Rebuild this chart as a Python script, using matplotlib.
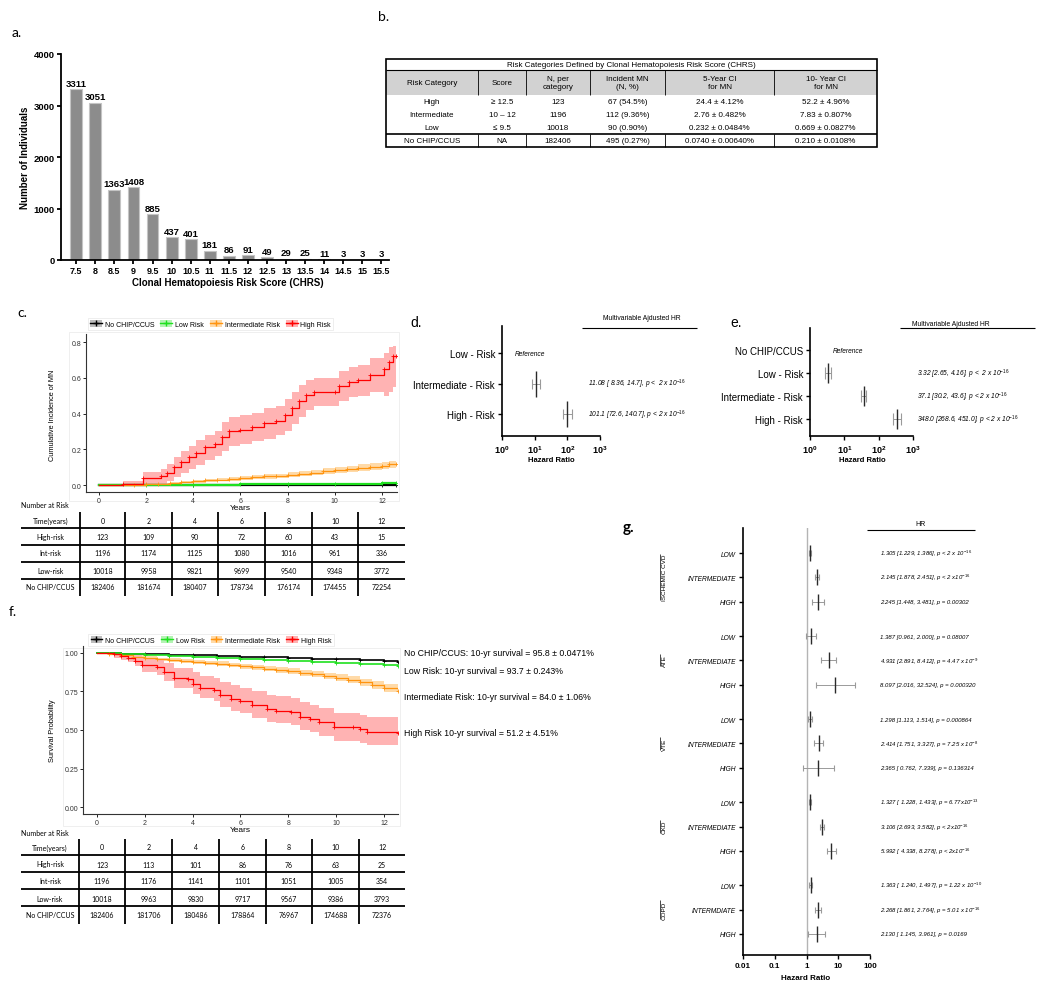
import numpy as np
import matplotlib
matplotlib.use("Agg")
import matplotlib.pyplot as plt
from matplotlib.patches import Rectangle, Patch
from matplotlib.lines import Line2D
from matplotlib.ticker import NullLocator
from matplotlib import transforms

plt.rcParams["font.family"] = ["Liberation Sans", "DejaVu Sans"]
plt.rcParams["mathtext.fontset"] = "custom"
plt.rcParams["mathtext.rm"] = "Liberation Sans"
plt.rcParams["mathtext.it"] = "Liberation Sans:italic"
plt.rcParams["mathtext.bf"] = "Liberation Sans:bold"

# ─────────────────────────────────────────────
# Data
# ─────────────────────────────────────────────

# a. CHRS distribution
chrs_scores = ["7.5", "8", "8.5", "9", "9.5", "10", "10.5", "11", "11.5", "12",
               "12.5", "13", "13.5", "14", "14.5", "15", "15.5"]
chrs_counts = [3311, 3051, 1363, 1408, 885, 437, 401, 181, 86, 91, 49, 29, 25, 11, 3, 3, 3]

# b. risk category table
b_header = ["Risk Category", "Score", "N, per\ncategory", "Incident MN\n(N, %)",
            "5-Year CI\nfor MN", "10- Year CI\nfor MN"]
b_category = ["High", "Intermediate", "Low", "No CHIP/CCUS"]
b_score = ["≥ 12.5", "10 – 12", "≤ 9.5", "NA"]
b_n = ["123", "1196", "10018", "182406"]
b_incident = ["67 (54.5%)", "112 (9.36%)", "90 (0.90%)", "495 (0.27%)"]
b_ci5 = ["24.4 ± 4.12%", "2.76 ± 0.482%", "0.232 ± 0.0484%", "0.0740 ± 0.00640%"]
b_ci10 = ["52.2 ± 4.96%", "7.83 ± 0.807%", "0.669 ± 0.0827%", "0.210 ± 0.0108%"]

# c. cumulative incidence of MN
c_high_t = [0, 1.0, 1.85, 2.65, 2.9, 3.2, 3.5, 3.8, 4.1, 4.5, 4.9, 5.2, 5.5, 6.0, 6.5, 7.0,
            7.5, 7.9, 8.2, 8.5, 8.8, 9.1, 10.0, 10.2, 10.6, 11.0, 11.5, 12.1, 12.3, 12.45, 12.6]
c_high_y = [0, 0.008, 0.040, 0.048, 0.07, 0.10, 0.13, 0.155, 0.18, 0.21, 0.23, 0.27, 0.30, 0.31,
            0.325, 0.345, 0.36, 0.39, 0.43, 0.47, 0.505, 0.52, 0.52, 0.555, 0.575, 0.59, 0.615,
            0.65, 0.69, 0.72, 0.72]
c_high_lo = [0, 0, 0.005, 0.008, 0.025, 0.045, 0.07, 0.09, 0.11, 0.14, 0.16, 0.19, 0.22, 0.23,
             0.245, 0.26, 0.28, 0.30, 0.34, 0.38, 0.42, 0.44, 0.44, 0.47, 0.49, 0.50, 0.52, 0.50,
             0.52, 0.55, 0.55]
c_high_hi = [0, 0.02, 0.075, 0.088, 0.115, 0.155, 0.19, 0.22, 0.25, 0.28, 0.30, 0.35, 0.38, 0.39,
             0.405, 0.43, 0.44, 0.48, 0.52, 0.56, 0.59, 0.60, 0.60, 0.64, 0.66, 0.67, 0.71, 0.74,
             0.77, 0.78, 0.78]
c_int_t = [0, 1.5, 2.0, 2.5, 3.0, 3.5, 4.0, 4.5, 5.0, 5.5, 6.0, 6.5, 7.0, 7.5, 8.0, 8.5, 9.0,
           9.5, 10.0, 10.5, 11.0, 11.5, 12.0, 12.3, 12.6]
c_int_y = [0, 0.001, 0.003, 0.008, 0.013, 0.017, 0.022, 0.026, 0.030, 0.034, 0.039, 0.043, 0.048,
           0.052, 0.058, 0.064, 0.070, 0.077, 0.084, 0.091, 0.097, 0.103, 0.108, 0.115, 0.12]
c_int_lo = [0, 0, 0.001, 0.004, 0.007, 0.011, 0.014, 0.018, 0.021, 0.025, 0.029, 0.032, 0.036,
            0.040, 0.045, 0.050, 0.055, 0.061, 0.067, 0.073, 0.079, 0.084, 0.089, 0.095, 0.100]
c_int_hi = [0, 0.002, 0.006, 0.012, 0.018, 0.024, 0.029, 0.034, 0.039, 0.043, 0.049, 0.054, 0.060,
            0.064, 0.071, 0.078, 0.085, 0.093, 0.101, 0.109, 0.115, 0.122, 0.127, 0.135, 0.140]
c_low_t = [0, 2, 4, 6, 8, 10, 12, 12.6]
c_low_y = [0, 0.001, 0.002, 0.004, 0.005, 0.007, 0.009, 0.010]
c_none_t = [0, 4, 8, 12, 12.6]
c_none_y = [0, 0.0005, 0.001, 0.0015, 0.002]

# c. number at risk
risk_times = ["0", "2", "4", "6", "8", "10", "12"]
risk_rows = ["High-risk", "Int-risk", "Low-risk", "No CHIP/CCUS"]
c_risk_high = [123, 109, 90, 72, 60, 43, 15]
c_risk_int = [1196, 1174, 1125, 1080, 1016, 961, 336]
c_risk_low = [10018, 9958, 9821, 9699, 9540, 9348, 3772]
c_risk_none = [182406, 181674, 180407, 178734, 176174, 174455, 72254]

# d. / e. multivariable adjusted HR
d_rows = ["Low - Risk", "Intermediate - Risk", "High - Risk"]
d_hr = [11.08, 101.1]
d_lo = [8.36, 72.6]
d_hi = [14.7, 140.7]
d_text = [r"11.08 [ 8.36, 14.7], p <  2 x 10$^{-16}$", r"101.1 [72.6, 140.7], p < 2 x 10$^{-16}$"]

e_rows = ["No CHIP/CCUS", "Low - Risk", "Intermediate - Risk", "High - Risk"]
e_hr = [3.32, 37.1, 348.0]
e_lo = [2.65, 30.2, 268.6]
e_hi = [4.16, 43.6, 451.0]
e_text = [r"3.32 [2.65, 4.16], p <  2 x 10$^{-16}$", r"37.1 [30.2, 43.6], p < 2 x 10$^{-16}$",
          r"348.0 [268.6, 451.0], p < 2 x 10$^{-16}$"]

# f. survival
f_none_t = [0, 1, 2, 3, 4, 5, 6, 7, 8, 9, 10, 11, 12, 12.6]
f_none_y = [1.0, 0.996, 0.992, 0.988, 0.984, 0.98, 0.976, 0.972, 0.968, 0.963, 0.958, 0.953, 0.947, 0.943]
f_low_t = [0, 1, 2, 3, 4, 5, 6, 7, 8, 9, 10, 11, 12, 12.6]
f_low_y = [1.0, 0.995, 0.989, 0.982, 0.976, 0.969, 0.963, 0.957, 0.950, 0.944, 0.937, 0.930, 0.921, 0.915]
f_int_t = [0, 0.5, 1, 1.5, 2, 2.5, 3, 3.5, 4, 4.5, 5, 5.5, 6, 6.5, 7, 7.5, 8, 8.5, 9, 9.5, 10,
           10.5, 11, 11.5, 12, 12.6]
f_int_y = [1.0, 0.993, 0.985, 0.975, 0.967, 0.958, 0.952, 0.947, 0.942, 0.936, 0.930, 0.922, 0.914,
           0.906, 0.898, 0.889, 0.881, 0.870, 0.861, 0.851, 0.840, 0.826, 0.810, 0.790, 0.772, 0.752]
f_int_lo = [1.0, 0.988, 0.978, 0.966, 0.957, 0.947, 0.940, 0.934, 0.929, 0.922, 0.915, 0.907, 0.898,
            0.889, 0.881, 0.871, 0.862, 0.851, 0.841, 0.830, 0.818, 0.803, 0.786, 0.765, 0.746, 0.726]
f_int_hi = [1.0, 0.998, 0.992, 0.984, 0.977, 0.969, 0.964, 0.960, 0.955, 0.950, 0.945, 0.937, 0.930,
            0.923, 0.915, 0.907, 0.900, 0.889, 0.881, 0.872, 0.862, 0.849, 0.834, 0.815, 0.798, 0.778]
f_high_t = [0, 0.7, 1.0, 1.3, 1.6, 1.9, 2.5, 2.8, 3.2, 3.8, 4.0, 4.3, 4.9, 5.15, 5.6, 6.0, 6.5,
            7.1, 7.5, 8.1, 8.5, 8.9, 9.3, 9.9, 10.7, 11.0, 11.3, 12.6]
f_high_y = [1.0, 0.99, 0.98, 0.97, 0.95, 0.92, 0.91, 0.876, 0.837, 0.833, 0.80, 0.775, 0.757, 0.724,
            0.70, 0.685, 0.66, 0.637, 0.626, 0.615, 0.583, 0.57, 0.55, 0.517, 0.517, 0.505, 0.49, 0.48]
f_high_lo = [1.0, 0.97, 0.955, 0.94, 0.915, 0.875, 0.86, 0.82, 0.775, 0.77, 0.735, 0.705, 0.685,
             0.65, 0.625, 0.61, 0.58, 0.555, 0.545, 0.53, 0.50, 0.485, 0.46, 0.43, 0.43, 0.415, 0.40, 0.39]
f_high_hi = [1.0, 1.0, 1.0, 0.995, 0.985, 0.965, 0.96, 0.935, 0.905, 0.90, 0.875, 0.85, 0.835,
             0.81, 0.79, 0.775, 0.755, 0.73, 0.72, 0.71, 0.68, 0.665, 0.645, 0.61, 0.61, 0.60, 0.585, 0.575]
f_notes = ["No CHIP/CCUS: 10-yr survival = 95.8 ± 0.0471%",
           "Low Risk: 10-yr survival = 93.7 ± 0.243%",
           "Intermediate Risk: 10-yr survival = 84.0 ± 1.06%",
           "High Risk 10-yr survival = 51.2 ± 4.51%"]

f_risk_high = [123, 113, 101, 86, 76, 63, 25]
f_risk_int = [1196, 1176, 1141, 1101, 1051, 1005, 354]
f_risk_low = [10018, 9963, 9830, 9717, 9567, 9386, 3793]
f_risk_none = [182406, 181706, 180486, 178864, 76967, 174688, 72376]

# g. HR for other outcomes
g_groups = ["ISCHEMIC CVD", "ATE", "VTE", "CKD", "COPD"]
g_levels = [["LOW", "INTERMEDIATE", "HIGH"]] * 4 + [["LOW", "INTERMDIATE", "HIGH"]]
g_hr = [1.305, 2.145, 2.245, 1.387, 4.931, 8.097, 1.298, 2.414, 2.365,
        1.327, 3.106, 5.992, 1.363, 2.268, 2.130]
g_lo = [1.229, 1.878, 1.448, 0.961, 2.891, 2.016, 1.113, 1.751, 0.762,
        1.228, 2.693, 4.338, 1.240, 1.861, 1.145]
g_hi = [1.386, 2.451, 3.481, 2.000, 8.412, 32.524, 1.514, 3.327, 7.339,
        1.433, 3.582, 8.278, 1.497, 2.764, 3.961]
g_text = [r"1.305 [1.229, 1.386], p < 2 x 10$^{-16}$",
          r"2.145 [1.878, 2.451], p < 2 x10$^{-16}$",
          r"2.245 [1.448, 3.481], p = 0.00302",
          r"1.387 [0.961, 2.000], p = 0.08007",
          r"4.931 [2.891, 8.412], p = 4.47 x 10$^{-9}$",
          r"8.097 [2.016, 32.524], p = 0.000320",
          r"1.298 [1.113, 1.514], p = 0.000864",
          r"2.414 [1.751, 3.327], p = 7.25 x 10$^{-8}$",
          r"2.365 [ 0.762, 7.339], p = 0.136314",
          r"1.327 [ 1.228, 1.433], p = 6.77x10$^{-13}$",
          r"3.106 [2.693, 3.582], p < 2x10$^{-16}$",
          r"5.992 [ 4.338, 8.278], p < 2x10$^{-16}$",
          r"1.363 [ 1.240, 1.497], p = 1.22 x 10$^{-10}$",
          r"2.268 [1.861, 2.764], p = 5.01 x 10$^{-16}$",
          r"2.130 [ 1.145, 3.961], p = 0.0169"]

# ─────────────────────────────────────────────
# Figure + pixel helpers
# ─────────────────────────────────────────────

W, H = 1050, 995
fig = plt.figure(figsize=(W / 100, H / 100), dpi=100)
canvas = fig.add_axes([0, 0, 1, 1], zorder=-5)
canvas.set_xlim(0, W)
canvas.set_ylim(H, 0)
canvas.axis("off")

CALIBRI = ["Lato", "DejaVu Sans"]
KM_COLORS = {"none": "#000000", "low": "#1fe01f", "int": "#ff9410", "high": "#ff0000"}
KM_BANDS = {"none": "#bdbdbd", "low": "#b4f3b4", "int": "#ffdaa8", "high": "#ffb3b3"}


def px_axes(x0, y0, x1, y1):
    ax = fig.add_axes([x0 / W, 1 - y1 / H, (x1 - x0) / W, (y1 - y0) / H])
    ax.set_facecolor("none")
    return ax


def hline(x0, x1, y, lw=1.0, color="black"):
    canvas.plot([x0, x1], [y, y], color=color, lw=lw, solid_capstyle="butt")


def vline(x, y0, y1, lw=1.0, color="black"):
    canvas.plot([x, x], [y0, y1], color=color, lw=lw, solid_capstyle="butt")


# ─────────────────────────────────────────────
# a. bar chart
# ─────────────────────────────────────────────

canvas.text(12, 33, "a.", fontsize=10, va="center", family=CALIBRI)
ax = px_axes(61, 55, 389, 261)
xs = np.arange(len(chrs_counts))
ax.bar(xs, chrs_counts, width=0.62, color="#8c8c8c", edgecolor="#c4c4c4", linewidth=0.8)
for x, v in zip(xs, chrs_counts):
    ax.text(x, v + 30, str(v), ha="center", va="bottom", fontsize=6.8, fontweight="bold")
ax.set_xlim(-0.8, len(xs) - 0.6)
ax.set_ylim(0, 4000)
ax.set_xticks(xs)
ax.set_xticklabels(chrs_scores, fontsize=6.5, fontweight="bold")
ax.set_yticks([0, 1000, 2000, 3000, 4000])
ax.set_yticklabels(["0", "1000", "2000", "3000", "4000"], fontsize=6.8, fontweight="bold")
ax.spines[["top", "right"]].set_visible(False)
ax.spines[["left", "bottom"]].set_linewidth(1.3)
ax.tick_params(width=1.3, length=3, pad=1.5)
canvas.text(25, 158, "Number of Individuals", rotation=90, ha="center", va="center",
            fontsize=7, fontweight="bold")
canvas.text(228, 283, "Clonal Hematopoiesis Risk Score (CHRS)", ha="center", va="center",
            fontsize=7, fontweight="bold")

# ─────────────────────────────────────────────
# b. table
# ─────────────────────────────────────────────

canvas.text(378, 17, "b.", fontsize=10, va="center", family=CALIBRI)
col_edges = [386, 478, 526, 590, 665, 774, 877]
col_cx = [(a + b) / 2 for a, b in zip(col_edges[:-1], col_edges[1:])]
t_top, t_title, t_head, t_sep, t_bot = 60, 71, 96, 135, 148
canvas.add_patch(Rectangle((col_edges[0], t_title), col_edges[-1] - col_edges[0], t_head - t_title,
                           facecolor="#d2d2d2", edgecolor="none"))
canvas.add_patch(Rectangle((col_edges[0], t_top), col_edges[-1] - col_edges[0], t_bot - t_top,
                           facecolor="none", edgecolor="black", lw=1.2))
hline(col_edges[0], col_edges[-1], t_title, lw=0.8)
hline(col_edges[0], col_edges[-1], t_sep, lw=1.2)
for x in col_edges[1:-1]:
    vline(x, t_title, t_head, lw=0.6)
    vline(x, t_sep, t_bot, lw=0.6)
canvas.text(col_edges[0] + (col_edges[-1] - col_edges[0]) / 2, (t_top + t_title) / 2,
            "Risk Categories Defined by Clonal Hematopoiesis Risk Score (CHRS)",
            ha="center", va="center", fontsize=5.8)
for cx, s in zip(col_cx, b_header):
    canvas.text(cx, (t_title + t_head) / 2, s, ha="center", va="center", fontsize=5.8,
                linespacing=1.15)
row_h = (t_sep - t_head) / 3
row_y = [t_head + row_h * (i + 0.5) for i in range(3)] + [(t_sep + t_bot) / 2]
for i, yy in enumerate(row_y):
    cells = [b_category[i], b_score[i], b_n[i], b_incident[i], b_ci5[i], b_ci10[i]]
    for cx, s in zip(col_cx, cells):
        canvas.text(cx, yy, s, ha="center", va="center", fontsize=5.8)

# ─────────────────────────────────────────────
# KM helpers
# ─────────────────────────────────────────────


def km_line(ax, t, y, key, lw=0.9, band=None):
    if band is not None:
        ax.fill_between(t, band[0], band[1], step="post", color=KM_BANDS[key], lw=0)
    ax.plot(t, y, drawstyle="steps-post", color=KM_COLORS[key], lw=lw)
    ax.plot(t[1:], y[1:], ls="none", marker="+", ms=3, mew=0.6, color=KM_COLORS[key])


def km_axes_style(ax):
    ax.spines[["top", "right"]].set_visible(False)
    ax.spines[["left", "bottom"]].set_linewidth(0.8)
    ax.spines[["left", "bottom"]].set_color("#333333")
    ax.tick_params(labelsize=5, labelcolor="#333333", length=2, width=0.6, pad=1.5)


def km_legend(ax, cx, cy):
    keys = ["none", "low", "int", "high"]
    labels = ["No CHIP/CCUS", "Low Risk", "Intermediate Risk", "High Risk"]
    handles = [(Patch(facecolor=KM_BANDS[k], edgecolor="none"),
                Line2D([], [], color=KM_COLORS[k], lw=1, marker="+", ms=4)) for k in keys]
    leg = ax.legend(handles, labels, loc="center", bbox_to_anchor=(cx / W, 1 - cy / H),
                    bbox_transform=fig.transFigure, ncol=4, fontsize=5, frameon=True,
                    fancybox=False, handlelength=1.7, handleheight=1.1, columnspacing=0.9,
                    handletextpad=0.4, borderpad=0.35)
    leg.get_frame().set_edgecolor("#e6e6e6")
    leg.get_frame().set_linewidth(0.6)


def risk_table(title_y, row_ys, hl_ys, vl_xs, v_top, v_bot, series):
    canvas.text(21, title_y, "Number at Risk", ha="left", va="center", fontsize=5, family=CALIBRI)
    x_right = 405
    centers = [(a + b) / 2 for a, b in zip(vl_xs, vl_xs[1:] + [x_right])]
    label_cx = (21 + vl_xs[0]) / 2
    rows = [("Time(years)", risk_times)] + [(lab, [str(v) for v in vals])
                                            for lab, vals in zip(risk_rows, series)]
    for yy, (lab, vals) in zip(row_ys, rows):
        canvas.text(label_cx, yy, lab, ha="center", va="center", fontsize=5, family=CALIBRI)
        for cx, s in zip(centers, vals):
            canvas.text(cx, yy, s, ha="center", va="center", fontsize=5, family=CALIBRI)
    for yy in hl_ys:
        hline(21, x_right, yy, lw=1.3)
    for xx in vl_xs:
        vline(xx, v_top, v_bot, lw=1.3)


# ─────────────────────────────────────────────
# c. cumulative incidence
# ─────────────────────────────────────────────

canvas.text(17, 313, "c.", fontsize=10, va="center", family=CALIBRI)
canvas.add_patch(Rectangle((69, 333), 330, 169, facecolor="none", edgecolor="#ececec", lw=0.6))
ax = px_axes(86, 335, 397, 493)
km_line(ax, c_none_t, c_none_y, "none", lw=1.6)
km_line(ax, c_low_t, c_low_y, "low", lw=1.6)
km_line(ax, c_int_t, c_int_y, "int", band=(c_int_lo, c_int_hi))
km_line(ax, c_high_t, c_high_y, "high", band=(c_high_lo, c_high_hi))
ax.set_xlim(-0.55, 12.64)
ax.set_ylim(-0.039, 0.845)
ax.set_xticks([0, 2, 4, 6, 8, 10, 12])
ax.set_yticks([0, 0.2, 0.4, 0.6, 0.8])
ax.set_yticklabels(["0.0", "0.2", "0.4", "0.6", "0.8"])
km_axes_style(ax)
km_legend(ax, 210.5, 325)
canvas.text(53, 415, "Cumulative Incidence of MN", rotation=90, ha="center", va="center", fontsize=5.3)
canvas.text(240, 508, "Years", ha="center", va="center", fontsize=6)
risk_table(505, [521, 537.5, 554, 571, 588], [529, 546, 562.5, 580],
           [80, 125, 172, 218, 265, 312, 358], 513, 597,
           [c_risk_high, c_risk_int, c_risk_low, c_risk_none])

# ─────────────────────────────────────────────
# f. survival
# ─────────────────────────────────────────────

canvas.text(9, 612, "f.", fontsize=10, va="center", family=CALIBRI)
canvas.add_patch(Rectangle((63, 649), 337, 178, facecolor="none", edgecolor="#ececec", lw=0.6))
ax = px_axes(83, 647, 398, 815)
km_line(ax, f_none_t, f_none_y, "none", lw=1.2)
km_line(ax, f_low_t, f_low_y, "low", lw=1.2)
km_line(ax, f_int_t, f_int_y, "int", band=(f_int_lo, f_int_hi))
km_line(ax, f_high_t, f_high_y, "high", band=(f_high_lo, f_high_hi))
ax.set_xlim(-0.585, 12.585)
ax.set_ylim(-0.045, 1.045)
ax.set_xticks([0, 2, 4, 6, 8, 10, 12])
ax.set_yticks([0, 0.25, 0.5, 0.75, 1.0])
ax.set_yticklabels(["0.00", "0.25", "0.50", "0.75", "1.00"])
km_axes_style(ax)
km_legend(ax, 211, 641)
canvas.text(53, 731, "Survival Probability", rotation=90, ha="center", va="center", fontsize=5.3)
canvas.text(240, 830, "Years", ha="center", va="center", fontsize=6)
for yy, s in zip([654, 671, 697, 734], f_notes):
    canvas.text(404, yy, s, ha="left", va="center", fontsize=6.3)
risk_table(834, [848, 865, 882, 899, 916], [856, 873, 890, 907],
           [79, 125, 172, 219, 266, 312, 359], 840, 925,
           [f_risk_high, f_risk_int, f_risk_low, f_risk_none])

# ─────────────────────────────────────────────
# forest helpers
# ─────────────────────────────────────────────


def forest_marks(ax, ys, hr, lo, hi, capsize, ms):
    hr, lo, hi = np.array(hr), np.array(lo), np.array(hi)
    ax.errorbar(hr, ys, xerr=[hr - lo, hi - hr], fmt="none", ecolor="#9a9a9a",
                elinewidth=0.7, capsize=capsize, capthick=0.8)
    ax.plot(hr, ys, ls="none", marker="|", ms=ms, mew=1.0, color="#2a2a2a")


def forest_axes_style(ax):
    ax.set_xscale("log")
    ax.spines[["top", "right"]].set_visible(False)
    ax.spines[["left", "bottom"]].set_linewidth(1.2)
    ax.xaxis.set_minor_locator(NullLocator())
    ax.tick_params(width=1.0, length=3, pad=2)


def exp_labels():
    return [r"$\mathbf{10^{%d}}$" % k for k in range(4)]


# ─────────────────────────────────────────────
# d. HR (CHIP/CCUS only)
# ─────────────────────────────────────────────

canvas.text(410, 323, "d.", fontsize=10, va="center")
ax = px_axes(502, 327, 600, 437)
forest_axes_style(ax)
forest_marks(ax, [1, 2], d_hr, d_lo, d_hi, capsize=3.6, ms=19)
ax.set_xlim(1, 1000)
ax.set_ylim(2.72, -0.885)
ax.set_xticks([1, 10, 100, 1000])
ax.set_xticklabels(exp_labels(), fontsize=6.5)
ax.set_yticks(range(len(d_rows)))
ax.set_yticklabels(d_rows, fontsize=7)
tr = transforms.blended_transform_factory(fig.transFigure, ax.transData)
ax.text(515 / W, 0, "Reference", transform=tr, fontsize=4.8, style="italic", va="center")
for yy, s in zip([1, 2], d_text):
    ax.text(588 / W, yy, s, transform=tr, fontsize=4.8, style="italic", va="center")
canvas.text(642, 319, "Multivariable Ajdusted HR", ha="center", va="center", fontsize=4.9)
hline(582, 697, 329, lw=0.8)
canvas.text(551, 460, "Hazard Ratio", ha="center", va="center", fontsize=5.5, fontweight="bold")

# ─────────────────────────────────────────────
# e. HR (vs no CHIP/CCUS)
# ─────────────────────────────────────────────

canvas.text(730, 323, "e.", fontsize=10, va="center")
ax = px_axes(810, 329, 913, 437)
forest_axes_style(ax)
forest_marks(ax, [1, 2, 3], e_hr, e_lo, e_hi, capsize=4.2, ms=15)
ax.set_xlim(1, 1000)
ax.set_ylim(3.74, -0.96)
ax.set_xticks([1, 10, 100, 1000])
ax.set_xticklabels(exp_labels(), fontsize=6.5)
ax.set_yticks(range(len(e_rows)))
ax.set_yticklabels(e_rows, fontsize=7)
tr = transforms.blended_transform_factory(fig.transFigure, ax.transData)
ax.text(833 / W, 0, "Reference", transform=tr, fontsize=4.8, style="italic", va="center")
for yy, s in zip([1, 2, 3], e_text):
    ax.text(917 / W, yy, s, transform=tr, fontsize=4.8, style="italic", va="center")
canvas.text(951, 324, "Multivariable Ajdusted HR", ha="center", va="center", fontsize=4.9)
hline(900, 1035, 329, lw=0.8)
canvas.text(862, 460, "Hazard Ratio", ha="center", va="center", fontsize=5.5, fontweight="bold")

# ─────────────────────────────────────────────
# g. HR for other outcomes
# ─────────────────────────────────────────────

canvas.text(623, 528, "g.", fontsize=11, va="center", fontweight="bold", family=CALIBRI)
GROUP_STEP = 3.42
g_ys, g_ylabels = [], []
for gi, levels in enumerate(g_levels):
    for ri, lev in enumerate(levels):
        g_ys.append(gi * GROUP_STEP + ri)
        g_ylabels.append(lev)

ax = px_axes(743, 529, 870, 956)
forest_axes_style(ax)
ax.axvline(1, color="#b4b4b4", lw=1.0, zorder=0)
forest_marks(ax, g_ys, g_hr, g_lo, g_hi, capsize=2.5, ms=11)
ax.set_xlim(0.01, 100)
ax.set_ylim(g_ys[-1] + 0.87, -1.03)
ax.set_xticks([0.01, 0.1, 1, 10, 100])
ax.set_xticklabels(["0.01", "0.1", "1", "10", "100"], fontsize=5.8, fontweight="bold")
ax.set_yticks(g_ys)
ax.set_yticklabels(g_ylabels, fontsize=4.8, style="italic")
tr = transforms.blended_transform_factory(fig.transFigure, ax.transData)
for yy, s in zip(g_ys, g_text):
    ax.text(880 / W, yy, s, transform=tr, fontsize=4.3, style="italic", va="center")
canvas.text(921, 525, "HR", ha="center", va="center", fontsize=5)
hline(867, 975, 531, lw=0.8)
canvas.text(806, 978, "Hazard Ratio", ha="center", va="center", fontsize=5.8, fontweight="bold")

renderer = fig.canvas.get_renderer()
tr_g = transforms.blended_transform_factory(fig.transFigure, ax.transData)
for gi, name in enumerate(g_groups):
    t = ax.text(664 / W, gi * GROUP_STEP + 1, name, transform=tr_g, rotation=90,
                ha="center", va="center", fontsize=4.6)
    bb = t.get_window_extent(renderer=renderer)
    vline(bb.x0 - 1.2, H - bb.y1, H - bb.y0, lw=0.5)

fig.savefig("out.png", dpi=100)
